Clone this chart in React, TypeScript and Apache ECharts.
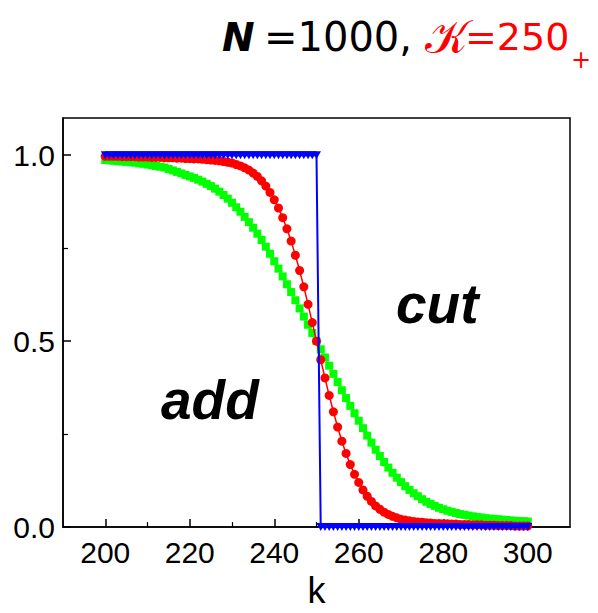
import React, { useEffect, useRef } from "react";
import * as echarts from "echarts";

const kValues: number[] = Array.from({ length: 101 }, (_, i) => 200 + i);

const greenValues: number[] = [
  0.987, 0.986, 0.985, 0.984, 0.983, 0.982, 0.981, 0.98, 0.978, 0.977,
  0.975, 0.973, 0.971, 0.969, 0.967, 0.963, 0.959, 0.955, 0.951, 0.947,
  0.943, 0.939, 0.934, 0.929, 0.923, 0.917, 0.91, 0.902, 0.893, 0.883,
  0.872, 0.86, 0.848, 0.834, 0.82, 0.805, 0.789, 0.772, 0.754, 0.735,
  0.715, 0.695, 0.674, 0.653, 0.632, 0.61, 0.588, 0.566, 0.544, 0.522,
  0.5, 0.478, 0.456, 0.434, 0.412, 0.39, 0.368, 0.347, 0.326, 0.306,
  0.286, 0.266, 0.246, 0.227, 0.208, 0.191, 0.175, 0.16, 0.146, 0.133,
  0.121, 0.11, 0.1, 0.091, 0.083, 0.075, 0.068, 0.062, 0.057, 0.052,
  0.048, 0.044, 0.041, 0.038, 0.035, 0.033, 0.031, 0.029, 0.027, 0.026,
  0.024, 0.023, 0.022, 0.021, 0.02, 0.019, 0.018, 0.017, 0.016, 0.016,
  0.015,
];

const redValues: number[] = [
  0.997, 0.997, 0.997, 0.997, 0.996, 0.996, 0.996, 0.996, 0.995, 0.995,
  0.995, 0.994, 0.994, 0.994, 0.993, 0.993, 0.993, 0.992, 0.992, 0.991,
  0.991, 0.99, 0.99, 0.989, 0.988, 0.987, 0.986, 0.985, 0.983, 0.981,
  0.979, 0.975, 0.971, 0.966, 0.96, 0.952, 0.943, 0.931, 0.917, 0.9,
  0.88, 0.858, 0.832, 0.802, 0.769, 0.731, 0.69, 0.646, 0.599, 0.55,
  0.5, 0.45, 0.401, 0.354, 0.31, 0.269, 0.231, 0.198, 0.168, 0.142,
  0.12, 0.1, 0.083, 0.069, 0.057, 0.048, 0.04, 0.034, 0.029, 0.025,
  0.021, 0.019, 0.017, 0.015, 0.014, 0.013, 0.012, 0.011, 0.01, 0.01,
  0.009, 0.009, 0.008, 0.008, 0.007, 0.007, 0.007, 0.006, 0.006, 0.006,
  0.005, 0.005, 0.005, 0.004, 0.004, 0.004, 0.004, 0.003, 0.003, 0.003,
  0.003,
];

const blueValues: number[] = [
  1, 1, 1, 1, 1, 1, 1, 1, 1, 1,
  1, 1, 1, 1, 1, 1, 1, 1, 1, 1,
  1, 1, 1, 1, 1, 1, 1, 1, 1, 1,
  1, 1, 1, 1, 1, 1, 1, 1, 1, 1,
  1, 1, 1, 1, 1, 1, 1, 1, 1, 1,
  1, 0, 0, 0, 0, 0, 0, 0, 0, 0,
  0, 0, 0, 0, 0, 0, 0, 0, 0, 0,
  0, 0, 0, 0, 0, 0, 0, 0, 0, 0,
  0, 0, 0, 0, 0, 0, 0, 0, 0, 0,
  0, 0, 0, 0, 0, 0, 0, 0, 0, 0,
  0,
];

const xMajorTicks: number[] = [200, 220, 240, 260, 280, 300];
const xMinorTicks: number[] = [210, 230, 250, 270, 290];
const yMajorTicks: number[] = [0, 0.5, 1.0];
const yMinorTicks: number[] = [0.25, 0.75];

const GREEN = "#00ff00";
const RED = "#ff0000";
const BLUE = "#0000ff";
const TICK_FONT = "Liberation Sans, Arial, Helvetica, sans-serif";
const TITLE_FONT = "DejaVu Sans, sans-serif";

export default function App() {
  const ref = useRef<HTMLDivElement>(null);

  useEffect(() => {
    if (!ref.current) return;
    const chart = echarts.init(ref.current, undefined, { renderer: "svg" });
    const pairs = (vals: number[]) => kValues.map((k, i) => [k, vals[i]]);

    const option: any = {
      animation: false,
      backgroundColor: "#ffffff",
      grid: {
        left: 63,
        right: 28,
        top: 118,
        bottom: 79,
        show: true,
        borderColor: "#000",
        borderWidth: 1.5,
        backgroundColor: "transparent",
      },
      xAxis: [
        {
          type: "value",
          min: 190,
          max: 310,
          position: "bottom",
          name: "k",
          nameLocation: "middle",
          nameGap: 44,
          nameTextStyle: { fontSize: 36, color: "#000", fontFamily: TICK_FONT },
          axisLine: { show: true, onZero: false, lineStyle: { color: "#000", width: 1.5 } },
          axisTick: {
            show: true,
            inside: true,
            length: 8,
            customValues: xMajorTicks,
            lineStyle: { color: "#000", width: 1.5 },
          },
          axisLabel: {
            customValues: xMajorTicks,
            fontSize: 30,
            color: "#000",
            fontFamily: TICK_FONT,
            margin: 10,
          },
          splitLine: { show: false },
        },
        {
          type: "value",
          min: 190,
          max: 310,
          position: "bottom",
          axisLine: { show: false, onZero: false },
          axisTick: {
            show: true,
            inside: true,
            length: 5,
            customValues: xMinorTicks,
            lineStyle: { color: "#000", width: 1.2 },
          },
          axisLabel: { show: false, customValues: xMinorTicks },
          splitLine: { show: false },
        },
      ],
      yAxis: [
        {
          type: "value",
          min: 0,
          max: 1.1,
          position: "left",
          axisLine: { show: true, onZero: false, lineStyle: { color: "#000", width: 1.5 } },
          axisTick: {
            show: true,
            inside: true,
            length: 8,
            customValues: yMajorTicks,
            lineStyle: { color: "#000", width: 1.5 },
          },
          axisLabel: {
            customValues: yMajorTicks,
            fontSize: 30,
            color: "#000",
            fontFamily: TICK_FONT,
            margin: 8,
            formatter: (v: number) => v.toFixed(1),
          },
          splitLine: { show: false },
        },
        {
          type: "value",
          min: 0,
          max: 1.1,
          position: "left",
          axisLine: { show: false, onZero: false },
          axisTick: {
            show: true,
            inside: true,
            length: 5,
            customValues: yMinorTicks,
            lineStyle: { color: "#000", width: 1.2 },
          },
          axisLabel: { show: false, customValues: yMinorTicks },
          splitLine: { show: false },
        },
      ],
      series: [
        {
          type: "line",
          data: pairs(greenValues),
          xAxisIndex: 0,
          yAxisIndex: 0,
          symbol: "rect",
          symbolSize: 8,
          showAllSymbol: true,
          itemStyle: { color: GREEN },
          lineStyle: { color: GREEN, width: 1 },
          clip: true,
          z: 2,
        },
        {
          type: "line",
          data: pairs(redValues),
          xAxisIndex: 0,
          yAxisIndex: 0,
          symbol: "circle",
          symbolSize: 9,
          showAllSymbol: true,
          itemStyle: { color: RED },
          lineStyle: { color: RED, width: 1.5 },
          clip: true,
          z: 3,
        },
        {
          type: "line",
          data: pairs(blueValues),
          xAxisIndex: 0,
          yAxisIndex: 0,
          symbol: "triangle",
          symbolRotate: 180,
          symbolSize: [9, 8],
          showAllSymbol: true,
          itemStyle: { color: BLUE },
          lineStyle: { color: BLUE, width: 2 },
          clip: true,
          z: 4,
        },
      ],
      graphic: [
        {
          type: "text",
          x: 222,
          y: 37,
          style: {
            text: "N",
            font: "italic bold 39px " + TITLE_FONT,
            fill: "#000",
            verticalAlign: "middle",
            align: "left",
            lineHeight: 30,
          },
        },
        {
          type: "text",
          x: 264,
          y: 37,
          style: {
            text: "=1000,",
            font: "40px " + TITLE_FONT,
            fill: "#000",
            verticalAlign: "middle",
            align: "left",
            lineHeight: 30,
          },
        },
        {
          type: "text",
          x: 425,
          y: 37,
          style: {
            text: "𝒦",
            font: "46px " + TITLE_FONT,
            fill: RED,
            verticalAlign: "middle",
            align: "left",
            lineHeight: 30,
          },
        },
        {
          type: "text",
          x: 465,
          y: 37,
          style: {
            text: "=250",
            font: "38px " + TITLE_FONT,
            fill: RED,
            verticalAlign: "middle",
            align: "left",
            lineHeight: 28,
          },
        },
        {
          type: "text",
          x: 571,
          y: 60,
          style: {
            text: "+",
            font: "24px " + TITLE_FONT,
            fill: RED,
            verticalAlign: "middle",
            align: "left",
            lineHeight: 16,
          },
        },
        {
          type: "text",
          x: 161,
          y: 400,
          style: {
            text: "add",
            font: "italic bold 55px " + TICK_FONT,
            fill: "#000",
            verticalAlign: "middle",
            align: "left",
          },
        },
        {
          type: "text",
          x: 396,
          y: 304,
          style: {
            text: "cut",
            font: "italic bold 55px " + TICK_FONT,
            fill: "#000",
            verticalAlign: "middle",
            align: "left",
          },
        },
      ],
    };

    chart.setOption(option);
    return () => chart.dispose();
  }, []);

  return (
    <div
      ref={ref}
      style={{ position: "absolute", left: 0, top: 0, width: 598, height: 613 }}
    />
  );
}
